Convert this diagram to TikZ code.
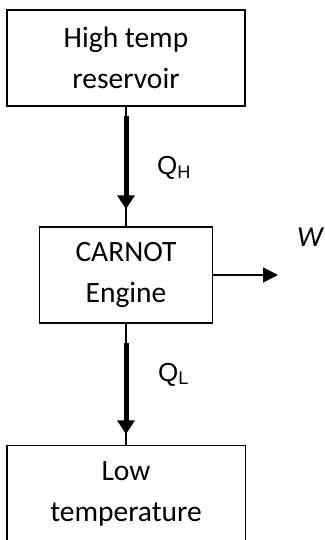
\documentclass[tikz,border=0pt]{standalone}
\usepackage{fontspec}
\setmainfont{Carlito}
\newfontfamily\labelfont{Liberation Sans}
\usepackage{tikz}
\usetikzlibrary{arrows.meta, calc}

\begin{document}
\begin{tikzpicture}[x=1pt, y=-1pt,
  box/.style={draw, line width=1.5pt, inner sep=0pt, minimum height=96pt, align=center, font=\fontsize{29.5}{41}\selectfont},
  link/.style={line width=1.5pt},
  flow/.style={line width=5pt, -{Triangle[width=17pt, length=14pt]}},
  heat/.style={inner sep=0pt, anchor=base west, font=\labelfont\fontsize{26}{30}\selectfont}]
  \useasboundingbox (0,0) rectangle (324,540);

  % Reservoirs and engine
  \node[box, minimum width=238pt] (hot) at (126,58) {High temp\\reservoir};
  \node[box, minimum width=173pt] (engine) at (126,275) {CARNOT\\Engine};
  \node[box, minimum width=238.5pt] (cold) at (126,493.5) {Low\\temperature};

  % Heat flows
  \draw[link] (hot.south) -- (engine.north);
  \draw[flow] ($(hot.south)+(0,9)$) -- ($(engine.north)+(0,-17)$);
  \draw[link] (engine.south) -- (cold.north);
  \draw[flow] ($(engine.south)+(0,19)$) -- ($(cold.north)+(0,-10.5)$);

  % Work out
  \coordinate (wend) at (278,275);
  \draw[link, -{Triangle[width=15pt, length=15pt]}] (engine.east) -- (wend);

  % Labels
  \node[heat] (qh) at (157,175) {Q\textsubscript{H}};
  \node[heat] (ql) at (158,381) {Q\textsubscript{L}};
  \node[inner sep=0pt, anchor=west, font=\fontsize{29}{34}\selectfont\itshape] (work) at (297,237) {W};

\end{tikzpicture}
\end{document}
